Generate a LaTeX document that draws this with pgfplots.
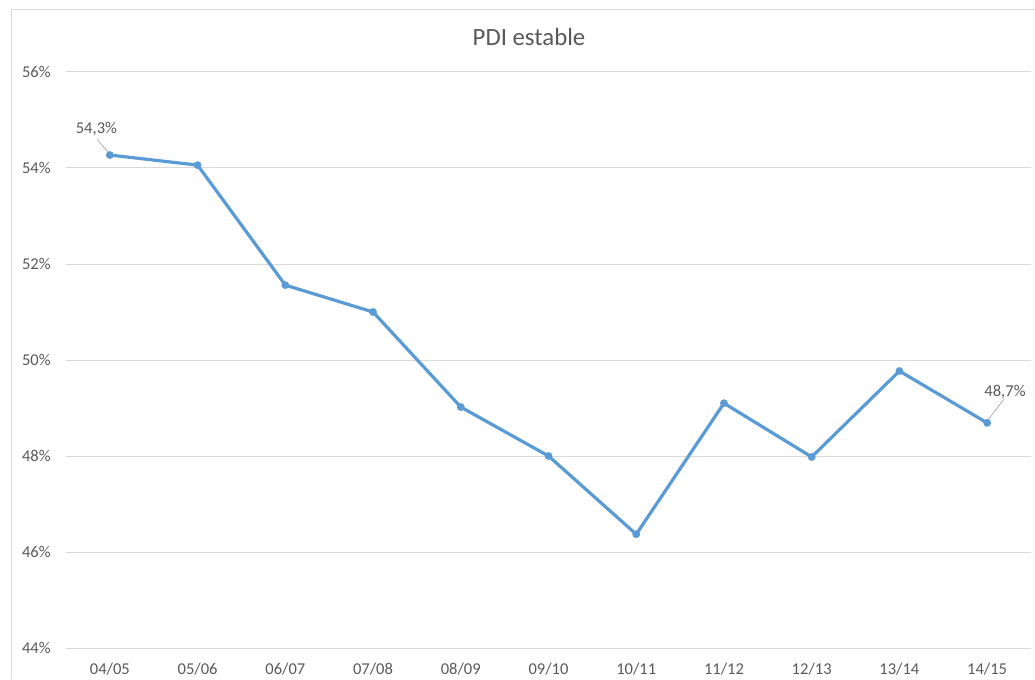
\documentclass[border=0pt]{standalone}
\usepackage{pgfplots}
\pgfplotsset{compat=1.18}
\usepackage{fontspec}
\setmainfont{Carlito}
\definecolor{txt}{HTML}{595959}
\definecolor{grid}{HTML}{D9D9D9}
\definecolor{line}{HTML}{5B9BD5}
\begin{document}
\begin{tikzpicture}
\useasboundingbox (0,0) rectangle (776.25pt,509.25pt);
\draw[color=grid, line width=0.75pt] (8.25pt,0) -- (8.25pt,501.75pt) -- (776.25pt,501.75pt);
\node[anchor=base, text=txt, font=\fontsize{18.6}{22}\selectfont] at (396.75pt,474.75pt) {PDI estable};
\begin{axis}[
  at={(49.5pt,23.25pt)}, anchor=south west,
  scale only axis, width=723.75pt, height=432pt,
  xmin=-0.5, xmax=10.5, ymin=44, ymax=56,
  xtick={0,...,10},
  xticklabels={04/05,05/06,06/07,07/08,08/09,09/10,10/11,11/12,12/13,13/14,14/15},
  ytick={44,46,...,56},
  yticklabel={\pgfmathprintnumber{\tick}\%},
  /pgf/number format/assume math mode=true,
  axis line style={draw=none},
  major tick length=0pt,
  ymajorgrids, grid style={color=grid, line width=0.75pt},
  ticklabel style={text=txt, font=\fontsize{12.4}{14}\selectfont},
  yticklabel style={xshift=-8pt},
  xticklabel style={yshift=-8pt},
  clip=false,
]
\addplot[color=line, line width=2.4pt, mark=*, mark size=2.6pt, mark options={fill=line, draw=line, line width=0.6pt, solid}] coordinates {
(0,54.27) (1,54.06) (2,51.56) (3,51.0) (4,49.02) (5,48.0) (6,46.37) (7,49.10) (8,47.98) (9,49.77) (10,48.69)
};
\draw[color=gray!70, line width=0.5pt] ([xshift=-1.5pt,yshift=2.25pt]axis cs:0,54.27) -- ([xshift=-9.75pt,yshift=12pt]axis cs:0,54.27);
\node[anchor=base, text=txt, font=\fontsize{12.4}{14}\selectfont] at ([xshift=-10.1pt,yshift=16.5pt]axis cs:0,54.27) {54,3\%};
\draw[color=gray!70, line width=0.5pt] ([xshift=0.75pt,yshift=2.25pt]axis cs:10,48.69) -- ([xshift=12.75pt,yshift=18pt]axis cs:10,48.69);
\node[anchor=base, text=txt, font=\fontsize{12.4}{14}\selectfont] at ([xshift=13.4pt,yshift=19.5pt]axis cs:10,48.69) {48,7\%};
\end{axis}
\end{tikzpicture}
\end{document}
